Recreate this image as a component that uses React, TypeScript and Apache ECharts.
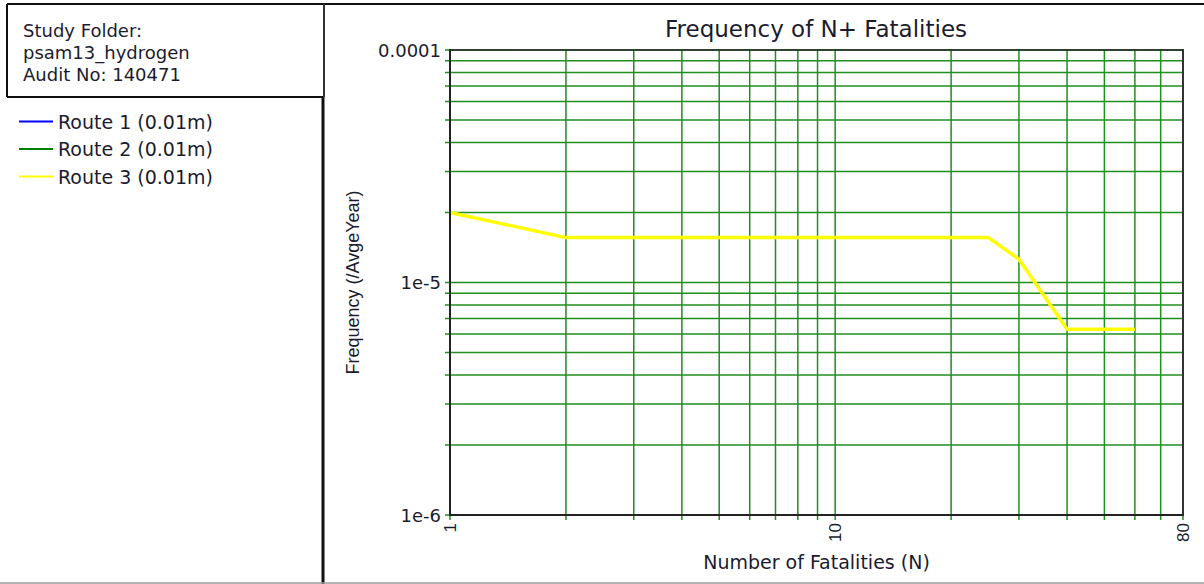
import React, { useEffect, useRef } from "react";
import * as echarts from "echarts";

const ROUTE_NAMES = ["Route 1 (0.01m)", "Route 2 (0.01m)", "Route 3 (0.01m)"];
const ROUTE_COLORS = ["#0000ff", "#008000", "#ffff00"];
const ROUTE1_N: number[] = [];
const ROUTE1_F: number[] = [];
const ROUTE2_N: number[] = [];
const ROUTE2_F: number[] = [];
const ROUTE3_N = [1, 2, 25, 30, 40, 60];
const ROUTE3_F = [2.0e-5, 1.56e-5, 1.56e-5, 1.26e-5, 6.3e-6, 6.3e-6];

const X_GRID = [1, 2, 3, 4, 5, 6, 7, 8, 9, 10, 20, 30, 40, 50, 60, 70, 80];
const Y_GRID = [
  1e-6, 2e-6, 3e-6, 4e-6, 5e-6, 6e-6, 7e-6, 8e-6, 9e-6,
  1e-5, 2e-5, 3e-5, 4e-5, 5e-5, 6e-5, 7e-5, 8e-5, 9e-5, 1e-4,
];
const X_LABELS = [1, 10, 80];
const Y_LABELS = [1e-6, 1e-5, 1e-4];

const INFO_LINES = ["Study Folder:", "psam13_hydrogen", "Audit No: 140471"];
const TITLE = "Frequency of N+ Fatalities";
const X_NAME = "Number of Fatalities (N)";
const Y_NAME = "Frequency (/AvgeYear)";

const TEXT_COLOR = "#1b1b2e";
const GRID_COLOR = "#1f8f1f";
const WIDE_FONT = "DejaVu Sans";
const NARROW_FONT = "Liberation Sans";

const pair = (a: number[], b: number[]) => a.map((v, i) => [v, b[i]]);

function buildOption(): any {
  const routeData = [pair(ROUTE1_N, ROUTE1_F), pair(ROUTE2_N, ROUTE2_F), pair(ROUTE3_N, ROUTE3_F)];
  return {
    animation: false,
    backgroundColor: "#ffffff",
    grid: { left: 450, top: 50, width: 733, height: 465, containLabel: false },
    legend: {
      data: ROUTE_NAMES,
      orient: "vertical",
      left: 14,
      top: 107,
      padding: 5,
      itemWidth: 34,
      itemHeight: 14,
      itemGap: 8.5,
      icon: "path://M0,0H34V2H0Z",
      textStyle: { fontFamily: WIDE_FONT, fontSize: 19, color: TEXT_COLOR },
      selectedMode: false,
    },
    xAxis: [
      {
        type: "log",
        logBase: 10,
        min: 1,
        max: 80,
        position: "bottom",
        z: 10,
        axisLine: { show: true, lineStyle: { color: "#222", width: 2 } },
        axisTick: { show: false },
        splitLine: { show: false },
        axisLabel: {
          customValues: X_LABELS,
          rotate: 90,
          margin: 8,
          fontFamily: NARROW_FONT,
          fontSize: 17,
          color: TEXT_COLOR,
          showMinLabel: true,
          showMaxLabel: true,
          formatter: (v: number) => String(Math.round(v)),
        },
        name: X_NAME,
        nameLocation: "middle",
        nameGap: 37,
        nameTextStyle: { fontFamily: WIDE_FONT, fontSize: 19, color: TEXT_COLOR },
      },
      {
        type: "log",
        logBase: 10,
        min: 1,
        max: 80,
        position: "top",
        z: 10,
        axisLine: { show: true, lineStyle: { color: "#222", width: 1.5 } },
        axisTick: { show: false },
        splitLine: { show: false },
        axisLabel: { show: false },
      },
    ],
    yAxis: [
      {
        type: "log",
        logBase: 10,
        min: 1e-6,
        max: 1e-4,
        position: "left",
        z: 10,
        axisLine: { show: true, lineStyle: { color: "#222", width: 2 } },
        axisTick: { show: false },
        splitLine: { show: false },
        axisLabel: {
          customValues: Y_LABELS,
          margin: 9,
          fontFamily: WIDE_FONT,
          fontSize: 18,
          color: TEXT_COLOR,
          showMinLabel: true,
          showMaxLabel: true,
          formatter: (v: number) => {
            const e = Math.round(Math.log10(v));
            return e === -4 ? "0.0001" : `1e${e}`;
          },
        },
        name: Y_NAME,
        nameLocation: "middle",
        nameGap: 88,
        nameTextStyle: { fontFamily: NARROW_FONT, fontSize: 18, color: TEXT_COLOR },
      },
      {
        type: "log",
        logBase: 10,
        min: 1e-6,
        max: 1e-4,
        position: "right",
        z: 10,
        axisLine: { show: true, lineStyle: { color: "#333", width: 2 } },
        axisTick: { show: false },
        splitLine: { show: false },
        axisLabel: { show: false },
      },
    ],
    graphic: [
      {
        type: "line",
        shape: { x1: 7, y1: 4, x2: 1204, y2: 4 },
        style: { stroke: "#111", lineWidth: 2 },
      },
      {
        type: "line",
        shape: { x1: 7, y1: 4, x2: 7, y2: 97 },
        style: { stroke: "#111", lineWidth: 2 },
      },
      {
        type: "line",
        shape: { x1: 7, y1: 97, x2: 324, y2: 97 },
        style: { stroke: "#111", lineWidth: 2 },
      },
      {
        type: "line",
        shape: { x1: 324, y1: 4, x2: 324, y2: 97 },
        style: { stroke: "#333", lineWidth: 2 },
      },
      {
        type: "line",
        shape: { x1: 323, y1: 97, x2: 323, y2: 584 },
        style: { stroke: "#111", lineWidth: 3 },
      },
      {
        type: "line",
        shape: { x1: 0, y1: 583, x2: 1204, y2: 583 },
        style: { stroke: "#9a9a9a", lineWidth: 1.5 },
      },
      {
        type: "text",
        style: {
          text: INFO_LINES.join("\n"),
          x: 23,
          y: 19,
          lineHeight: 22,
          fontFamily: WIDE_FONT,
          fontSize: 18,
          fill: TEXT_COLOR,
          verticalAlign: "top",
        },
      },
      {
        type: "text",
        style: {
          text: TITLE,
          x: 816,
          y: 29,
          align: "center",
          verticalAlign: "middle",
          fontFamily: WIDE_FONT,
          fontSize: 23,
          fill: TEXT_COLOR,
        },
      },
    ],
    series: [
      {
        type: "custom",
        name: "xgrid",
        silent: true,
        clip: false,
        z: 1,
        xAxisIndex: 0,
        yAxisIndex: 0,
        data: X_GRID.map((v) => [v, 1e-5]),
        renderItem: (params: any, api: any) => {
          const cs = params.coordSys;
          const p = api.coord([api.value(0), api.value(1)]);
          return {
            type: "line",
            shape: { x1: p[0], y1: cs.y, x2: p[0], y2: cs.y + cs.height + 5 },
            style: { stroke: GRID_COLOR, lineWidth: 1.5 },
          };
        },
      },
      {
        type: "custom",
        name: "ygrid",
        silent: true,
        clip: false,
        z: 1,
        xAxisIndex: 0,
        yAxisIndex: 0,
        data: Y_GRID.map((v) => [1, v]),
        renderItem: (params: any, api: any) => {
          const cs = params.coordSys;
          const p = api.coord([api.value(0), api.value(1)]);
          return {
            type: "line",
            shape: { x1: cs.x - 5, y1: p[1], x2: cs.x + cs.width, y2: p[1] },
            style: { stroke: GRID_COLOR, lineWidth: 1.5 },
          };
        },
      },
      ...ROUTE_NAMES.map((name, i) => ({
        type: "line",
        name,
        xAxisIndex: 0,
        yAxisIndex: 0,
        data: routeData[i],
        symbol: "none",
        z: 5,
        color: ROUTE_COLORS[i],
        lineStyle: { color: ROUTE_COLORS[i], width: i === 2 ? 3.5 : 2 },
      })),
    ],
  };
}

export default function App() {
  const ref = useRef<HTMLDivElement>(null);
  useEffect(() => {
    if (!ref.current) return;
    const chart = echarts.init(ref.current, null, { renderer: "svg" });
    chart.setOption(buildOption());
    return () => chart.dispose();
  }, []);
  return (
    <div
      ref={ref}
      style={{ position: "fixed", left: 0, top: 0, width: 1204, height: 584, background: "#fff" }}
    />
  );
}
